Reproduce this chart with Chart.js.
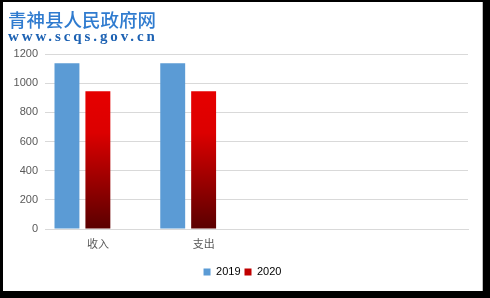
<!DOCTYPE html>
<html>
<head>
<meta charset="utf-8">
<script src="https://cdn.jsdelivr.net/npm/chart.js@4"></script>
<style>
  html, body { margin: 0; padding: 0; background: #000; }
  #frame {
    position: absolute; left: 3px; top: 2px; width: 479px; height: 289px;
    background: #fff; border-right: 1px solid #bdbdbd;
  }
  #mark1 {
    position: absolute; left: 8px; top: 6px; color: #2f7bcf;
    font: 500 18.5px "Noto Sans CJK SC", sans-serif; white-space: nowrap;
  }
  #mark2 {
    position: absolute; left: 8px; top: 28px; color: #1d62b3;
    font: bold 15px "Liberation Serif", serif; letter-spacing: 2.9px; white-space: nowrap;
  }
</style>
</head>
<body>
<div id="frame">
  <canvas id="chart" width="479" height="289"></canvas>
</div>
<div id="mark1">青神县人民政府网</div>
<div id="mark2">www.scqs.gov.cn</div>
<script>
const categories = ["收入", "支出", "", ""];
const seriesNames = ["2019", "2020"];
const values2019 = [1136, 1136, null, null];
const values2020 = [945, 945, null, null];
const valuesEmpty = [null, null, null, null];
const yTicks = [0, 200, 400, 600, 800, 1000, 1200];
const legendColors = ["#5b9bd5", "#c00000"];

const ctx = document.getElementById("chart").getContext("2d");

function redGradient(context) {
  const chart = context.chart;
  const area = chart.chartArea;
  if (!area) return "#c00000";
  const y = chart.scales.y;
  const top = y.getPixelForValue(Math.max(...values2020.filter((v) => v != null)));
  const g = chart.ctx.createLinearGradient(0, top, 0, area.bottom);
  g.addColorStop(0, "#e60000");
  g.addColorStop(0.3, "#dc0000");
  g.addColorStop(1, "#5a0000");
  return g;
}

new Chart(ctx, {
  type: "bar",
  data: {
    labels: categories,
    datasets: [
      { label: seriesNames[0], data: values2019, backgroundColor: legendColors[0] },
      { label: seriesNames[1], data: values2020, backgroundColor: redGradient },
      { label: "", data: valuesEmpty, backgroundColor: "transparent" },
    ],
  },
  options: {
    responsive: false,
    animation: false,
    layout: { padding: { left: 0, right: 0, top: 52, bottom: 3.5 } },
    datasets: { bar: { categoryPercentage: 0.877, barPercentage: 0.806 } },
    plugins: {
      tooltip: { enabled: false },
      legend: {
        position: "bottom",
        labels: {
          boxWidth: 7,
          boxHeight: 7,
          padding: 4,
          color: "#595959",
          font: { family: "Liberation Sans", size: 11 },
          generateLabels: (chart) =>
            seriesNames.map((name, i) => ({
              text: name,
              fillStyle: legendColors[i],
              strokeStyle: legendColors[i],
              lineWidth: 0,
              datasetIndex: i,
            })),
        },
      },
    },
    scales: {
      x: {
        grid: { display: false },
        border: { color: "#d9d9d9" },
        ticks: {
          color: "#595959",
          padding: 0,
          font: { family: "Noto Sans CJK SC", size: 11 },
          maxRotation: 0,
        },
        afterFit: (scale) => { scale.height = 33.5; },
      },
      y: {
        min: 0,
        max: 1200,
        afterBuildTicks: (scale) => { scale.ticks = yTicks.map((v) => ({ value: v })); },
        grid: { color: "#d9d9d9", drawTicks: false },
        border: { display: false },
        ticks: {
          color: "#595959",
          padding: 7,
          font: { family: "Liberation Sans", size: 11 },
          callback: (v) => String(v),
        },
        afterFit: (scale) => { scale.width = 42; },
      },
      // empty right-hand margin so the legend centres like the original
      spacer: {
        position: "right",
        grid: { display: false },
        border: { display: false },
        ticks: { display: false },
        afterFit: (scale) => { scale.width = 14; },
      },
    },
  },
});
</script>
</body>
</html>
